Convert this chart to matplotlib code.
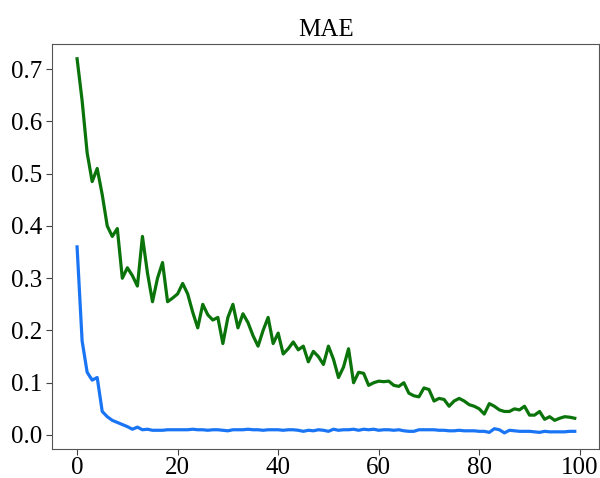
import matplotlib
matplotlib.use("Agg")
import matplotlib.pyplot as plt
from matplotlib import font_manager
import numpy as np

epochs = list(range(100))

val_mae = [0.72, 0.64, 0.54, 0.485, 0.51, 0.46, 0.40, 0.38, 0.395, 0.30,
           0.32, 0.305, 0.285, 0.38, 0.31, 0.255, 0.30, 0.33, 0.255, 0.262,
           0.27, 0.29, 0.27, 0.235, 0.205, 0.25, 0.23, 0.22, 0.225, 0.175,
           0.225, 0.25, 0.205, 0.232, 0.215, 0.19, 0.17, 0.20, 0.225, 0.175,
           0.195, 0.155, 0.165, 0.178, 0.163, 0.17, 0.14, 0.16, 0.15, 0.135,
           0.17, 0.145, 0.11, 0.13, 0.165, 0.10, 0.12, 0.118, 0.095, 0.10,
           0.103, 0.102, 0.103, 0.095, 0.093, 0.10, 0.08, 0.075, 0.073, 0.09,
           0.087, 0.065, 0.07, 0.068, 0.055, 0.065, 0.07, 0.065, 0.058, 0.055,
           0.05, 0.04, 0.06, 0.055, 0.048, 0.045, 0.045, 0.05, 0.048, 0.055,
           0.038, 0.038, 0.045, 0.03, 0.035, 0.028, 0.032, 0.035, 0.034, 0.032]

train_mae = [0.36, 0.18, 0.12, 0.105, 0.11, 0.045, 0.035, 0.028, 0.024, 0.02,
             0.016, 0.011, 0.015, 0.010, 0.011, 0.009, 0.009, 0.009, 0.010, 0.010,
             0.010, 0.010, 0.010, 0.011, 0.010, 0.010, 0.009, 0.010, 0.010, 0.009,
             0.008, 0.010, 0.010, 0.010, 0.011, 0.010, 0.010, 0.009, 0.010, 0.010,
             0.010, 0.009, 0.010, 0.010, 0.009, 0.007, 0.009, 0.008, 0.010, 0.009,
             0.007, 0.011, 0.009, 0.010, 0.010, 0.011, 0.009, 0.011, 0.010, 0.011,
             0.009, 0.010, 0.010, 0.009, 0.010, 0.008, 0.007, 0.007, 0.010, 0.010,
             0.010, 0.010, 0.009, 0.009, 0.008, 0.008, 0.009, 0.008, 0.008, 0.008,
             0.007, 0.007, 0.005, 0.012, 0.010, 0.004, 0.009, 0.008, 0.007, 0.007,
             0.007, 0.006, 0.005, 0.007, 0.006, 0.006, 0.006, 0.006, 0.007, 0.007]

for f in font_manager.findSystemFonts():
    if 'LiberationSerif' in f.replace(' ', ''):
        try:
            font_manager.fontManager.addfont(f)
        except Exception:
            pass

plt.rcParams['font.family'] = 'serif'
plt.rcParams['font.serif'] = ['Liberation Serif', 'Times New Roman', 'DejaVu Serif']

fig = plt.figure(figsize=(6, 4.78), dpi=100)
ax = fig.add_axes([0.087, 0.0607, 0.912, 0.847])

ax.plot(epochs, val_mae, color='#0a730a', linewidth=2.3)
ax.plot(epochs, train_mae, color='#1a75f5', linewidth=2.3)

ax.set_title('MAE', fontsize=18, pad=6)
ax.set_xticks([0, 20, 40, 60, 80, 100])
ax.set_yticks([0.0, 0.1, 0.2, 0.3, 0.4, 0.5, 0.6, 0.7])
ax.set_yticklabels(['0.0', '0.1', '0.2', '0.3', '0.4', '0.5', '0.6', '0.7'])
ax.tick_params(labelsize=18, color='#444444', length=4)
ax.tick_params(axis='x', pad=2)
ax.set_xlim(-4.95, 103.9)
ax.set_ylim(-0.0268, 0.748)
for s in ax.spines.values():
    s.set_color('#555555')

fig.savefig('out.png', dpi=100)
